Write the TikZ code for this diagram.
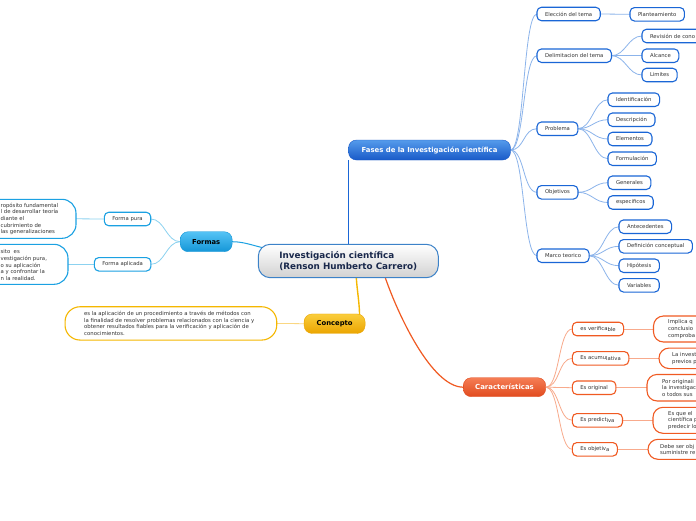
\documentclass[tikz,border=0pt]{standalone}
\usepackage{fontspec}
\setmainfont{DejaVu Sans}
\usetikzlibrary{calc}
\pgfdeclarelayer{background}
\pgfsetlayers{background,main}
\newcommand{\subHeight}{13.5pt}
\newcommand{\subFont}{\fontsize{5.3}{6.3}\selectfont}
\newcommand{\descFont}{\fontsize{5.35}{6.6}\selectfont}
\newcommand{\bendLength}{14pt}
\newcommand{\lowPart}[1]{\raisebox{-0.8pt}{#1}}
\definecolor{textGray}{RGB}{50,50,50}
\definecolor{centralText}{RGB}{25,40,75}
\definecolor{centralBorder}{RGB}{60,130,200}
\definecolor{branchBlue}{RGB}{26,102,214}
\definecolor{fasesTop}{RGB}{85,155,235}
\definecolor{fasesBottom}{RGB}{25,90,200}
\definecolor{lineBlue}{RGB}{140,180,235}
\definecolor{formasTop}{RGB}{85,195,245}
\definecolor{formasBottom}{RGB}{20,150,215}
\definecolor{formasLine}{RGB}{27,161,226}
\definecolor{lineCyan}{RGB}{140,210,240}
\definecolor{conceptoTop}{RGB}{250,205,60}
\definecolor{conceptoBottom}{RGB}{235,165,0}
\definecolor{conceptoLine}{RGB}{245,183,0}
\definecolor{lineYellow}{RGB}{250,215,130}
\definecolor{caracTop}{RGB}{245,125,85}
\definecolor{caracBottom}{RGB}{225,75,30}
\definecolor{caracLine}{RGB}{240,90,34}
\definecolor{lineOrange}{RGB}{248,170,140}
\tikzstyle{topic}=[inner sep=0, outer sep=0, rounded corners=8pt, font=\bfseries\fontsize{6.8}{8}\selectfont]
\tikzstyle{subTopic}=[draw, fill=white, line width=1.1pt, inner xsep=8pt, inner ysep=0, outer sep=0, minimum height=\subHeight, rounded corners=4.5pt, font=\subFont, text=textGray, anchor=west]
\tikzstyle{descBox}=[draw, fill=white, line width=1.1pt, inner sep=0, outer sep=0, rounded corners=12pt]
\tikzstyle{descText}=[inner sep=0, align=left, font=\descFont, text=textGray, anchor=west]
\tikzstyle{link}=[line width=0.8pt]
\tikzstyle{sCurve}=[out=0, in=180, distance=\bendLength]

\begin{document}
\begin{tikzpicture}[x=1pt, y=-1pt]

% Frame
\useasboundingbox (0,0) rectangle (696,520);
\clip (0,0) rectangle (696,520);
\begin{pgfonlayer}{background}
\fill[white] (0,0) rectangle (696,520);
\end{pgfonlayer}

% Central topic
\node[topic, draw=centralBorder, line width=1pt, top color=white, bottom color=black!18,
  minimum width=180pt, minimum height=33.4pt, rounded corners=12pt, align=left,
  text=centralText, font=\bfseries\fontsize{8.8}{11.3}\selectfont] (central) at (348.3,261)
  {Investigación científica\\(Renson Humberto Carrero)};

% Main branches
\node[topic, draw=fasesBottom, top color=fasesTop, bottom color=fasesBottom, text=white,
  minimum width=162pt, minimum height=20pt, font=\bfseries\fontsize{6.9}{8}\selectfont] (fases) at (429.5,150) {Fases de la Investigación científica};
\node[topic, draw=formasBottom, top color=formasTop, bottom color=formasBottom, text=black,
  minimum width=52pt, minimum height=20pt] (formas) at (206.2,241.7) {Formas};
\node[topic, draw=conceptoBottom, top color=conceptoTop, bottom color=conceptoBottom, text=black,
  minimum width=61pt, minimum height=19.5pt] (concepto) at (334.6,323.7) {Concepto};
\node[topic, draw=caracBottom, top color=caracTop, bottom color=caracBottom, text=white,
  minimum width=82.4pt, minimum height=19pt, font=\bfseries\fontsize{6.95}{8}\selectfont] (carac) at (504.5,387.2) {Características};

\begin{pgfonlayer}{background}
\draw[branchBlue, line width=1.4pt] (central.north) -- (central.north |- fases.south);
\draw[formasLine, line width=1pt] (formas.east) .. controls +(12,0) and +(-10,-2) .. ($(central.west)+(6,-13)$);
\draw[conceptoLine, line width=1.4pt] ($(central.south)+(8,0)$) .. controls +(1,15) and +(0,-15) .. ($(concepto.north)+(25,4)$);
\draw[caracLine, line width=1.2pt] ($(central.south)+(37,0)$) .. controls +(12,35) and +(-32,0) .. (carac.west);
\end{pgfonlayer}

% Fases
\foreach \name/\label/\y in {eleccion/Elección del tema/14, delim/Delimitacion del tema/55.7,
    problema/Problema/128.7, objetivos/Objetivos/192.3, marco/Marco teorico/255.7} {
  \node[subTopic, draw=branchBlue] (\name) at (537,\y) {\label};
  \begin{pgfonlayer}{background}
    \draw[link, lineBlue] (fases.east) to[sCurve] (\name.west);
  \end{pgfonlayer}
}
\node[subTopic, draw=branchBlue, text width=48pt, align=left] (revision) at (642,36) {Revisión de cono};
\foreach \parent/\name/\label/\x/\y in {eleccion/plant/Planteamiento/630/14.3,
    delim/alcance/Alcance/642/55.7, delim/limites/Limites/642/75,
    problema/ident/Identificación/608/99.7, problema/descr/Descripción/608/119.7,
    problema/elem/Elementos/608/139, problema/formul/Formulación/608/158.7,
    objetivos/gener/Generales/608/182.7, objetivos/especif/especificos/608/202.5,
    marco/antec/Antecedentes/619/226.7, marco/defin/Definición conceptual/619/246.3,
    marco/hipot/Hipótesis/619/265.7, marco/variab/Variables/619/285.3} {
  \node[subTopic, draw=branchBlue] (\name) at (\x,\y) {\label};
  \begin{pgfonlayer}{background}
    \draw[link, lineBlue] (\parent.east) to[sCurve] (\name.west);
  \end{pgfonlayer}
}
\begin{pgfonlayer}{background}
\draw[link, lineBlue] (delim.east) to[sCurve] (revision.west);
\end{pgfonlayer}

% Formas
\node[subTopic, draw=formasLine] (pura) at (104.3,219) {Forma pura};
\node[subTopic, draw=formasLine] (aplicada) at (94.3,264.3) {Forma aplicada};
\node[descBox, draw=formasLine, minimum width=116pt, minimum height=39pt, rounded corners=14pt] (puraBox) at (18,218.8) {};
\node[descText] (puraText) at (0.5,219) {ropósito fundamental\\l de desarrollar teoría\\diante el\\cubrimiento de\\las generalizaciones};
\node[descBox, draw=formasLine, minimum width=108pt, minimum height=40pt, rounded corners=14pt] (aplicadaBox) at (14,264.3) {};
\node[descText] (aplicadaText) at (0.5,265) {sito \ es\\vestigación pura,\\o su aplicación\\a y confrontar la\\n la realidad.};
\begin{pgfonlayer}{background}
\draw[link, lineCyan] (pura.east) to[sCurve] (formas.west);
\draw[link, lineCyan] (aplicada.east) to[sCurve] (formas.west);
\draw[link, lineCyan] (puraBox.east) -- (pura.west);
\draw[link, lineCyan] (aplicadaBox.east) -- (aplicada.west);
\end{pgfonlayer}

% Concepto
\node[descBox, draw=conceptoLine, minimum width=211.7pt, minimum height=33.3pt, rounded corners=15pt] (conceptoBox) at (170.9,323.4) {};
\node[descText, font=\fontsize{5.35}{6.5}\selectfont] (conceptoText) at (84,323.6) {es la aplicación de un procedimiento a través de métodos con\\la finalidad de resolver problemas relacionados con la ciencia y\\obtener resultados fiables para la verificación y aplicación de\\conocimientos.};
\begin{pgfonlayer}{background}
\draw[link, lineYellow] (conceptoBox.east) -- (concepto.west);
\end{pgfonlayer}

% Caracteristicas
\foreach \name/\label/\y/\bx/\bh/\tx/\desc in {
    verif/{es verifica\lowPart{ble}}/329/653.5/26/668/{Implica q\\conclusio\\comproba},
    acum/{Es acumu\lowPart{lativa}}/358.3/659/20.5/672/{La invest\\previos p},
    orig/Es original/387.7/647/26.5/662/{Por originali\\la investigac\\o todos sus},
    pred/{Es predict\lowPart{iva}}/420.3/653/26/668/{Es que el\\científica p\\predecir lo},
    objet/{Es objetiv\lowPart{a}}/449.3/648/20/660/{Debe ser obj\\suministre re}} {
  \node[subTopic, draw=caracLine] (\name) at (572.3,\y) {\label};
  \node[descBox, draw=caracLine, anchor=west, minimum width=80pt, minimum height=\bh pt, rounded corners=10pt] (\name Box) at (\bx,\y) {};
  \node[descText] (\name Text) at (\tx,\y) {\desc};
  \begin{pgfonlayer}{background}
    \draw[link, lineOrange] (carac.east) to[sCurve] (\name.west);
    \draw[link, lineOrange] (\name.east) -- (\name Box.west);
  \end{pgfonlayer}
}

\end{tikzpicture}
\end{document}
